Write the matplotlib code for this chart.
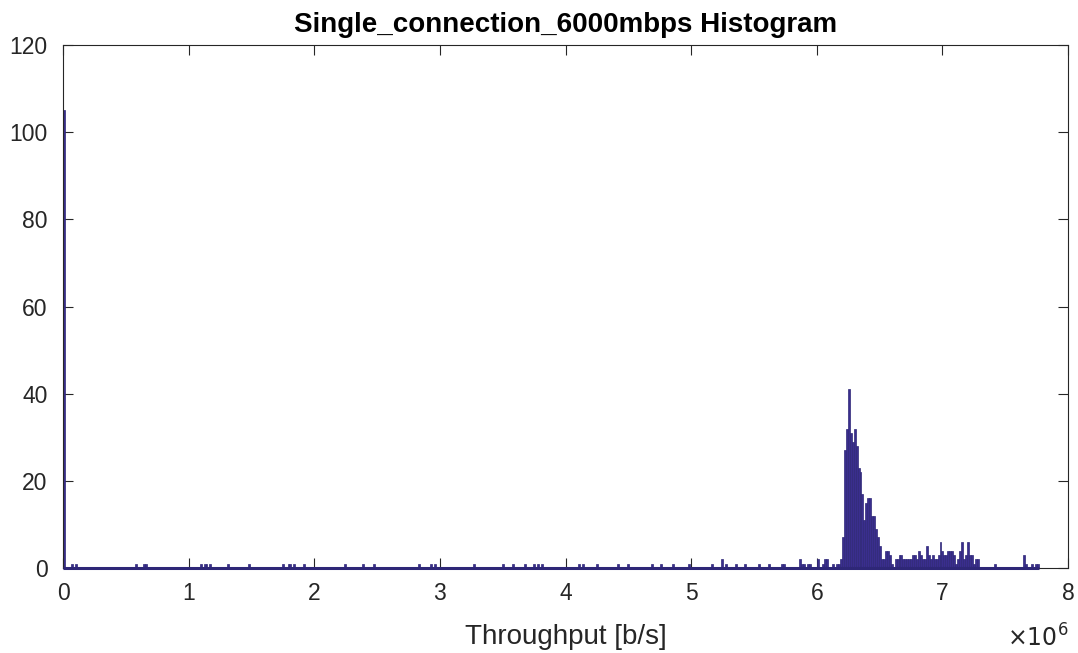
import numpy as np
import matplotlib
matplotlib.use("Agg")
import matplotlib.pyplot as plt
from matplotlib.ticker import FuncFormatter

# Histogram of measured throughput: 500 equal bins between the min and max sample
n_bins = 500
data_min = 0.0
data_max = 7.77e6

# Non-empty bins (index into the 500 bins) and their counts
bin_index = [
    0, 4, 6, 37, 41, 42, 70, 72, 73, 75, 84, 95, 112, 115, 116, 118, 123,
    144, 153, 159, 182, 188, 190, 210, 225, 230, 236, 241, 243, 245, 264,
    266, 273, 284, 289, 301, 306, 312, 320, 332, 337, 339, 344, 349, 356,
    361, 368, 369, 377, 378, 379, 381, 382, 386, 389, 390, 391, 394, 396,
    397, 398, 399, 400, 401, 402, 403, 404, 405, 406, 407, 408, 409, 410,
    411, 412, 413, 414, 415, 416, 417, 418, 419, 420, 421, 422, 423, 424,
    426, 427, 428, 429, 430, 431, 432, 433, 434, 435, 436, 437, 438, 439,
    440, 441, 442, 443, 444, 445, 446, 447, 448, 449, 450, 451, 452, 453,
    454, 455, 456, 457, 458, 459, 460, 461, 462, 463, 464, 465, 466, 467,
    468, 477, 492, 493, 496, 498, 499,
]
bin_count = [
    105, 1, 1, 1, 1, 1, 1, 1, 1, 1, 1, 1, 1, 1, 1, 1, 1,
    1, 1, 1, 1, 1, 1, 1, 1, 1, 1, 1, 1, 1, 1,
    1, 1, 1, 1, 1, 1, 1, 1, 1, 2, 1, 1, 1, 1,
    1, 1, 1, 2, 1, 1, 1, 1, 2, 1, 2, 2, 1, 1,
    1, 2, 7, 27, 32, 41, 31, 29, 32, 28, 23, 22, 17, 11,
    15, 16, 16, 12, 12, 9, 7, 5, 2, 2, 4, 4, 3, 1,
    2, 2, 3, 3, 2, 2, 2, 2, 2, 3, 3, 2, 4, 3,
    2, 2, 5, 3, 2, 3, 2, 2, 3, 6, 4, 3, 3, 4,
    4, 4, 3, 1, 2, 4, 6, 2, 3, 6, 3, 3, 1, 2,
    2, 1, 3, 1, 1, 1, 1,
]

x_ticks = [0, 1, 2, 3, 4, 5, 6, 7, 8]          # in units of 1e6 b/s
y_ticks = [0, 20, 40, 60, 80, 100, 120]

bar_face = "#3a2e8e"
bar_edge = "#2e2777"
axis_col = (0.15, 0.15, 0.15)

plt.rcParams["font.family"] = ["Liberation Sans", "DejaVu Sans"]

fig = plt.figure(figsize=(10.78, 6.53), dpi=100)
ax = fig.add_axes([63 / 1078, 1 - 568 / 653, (1068 - 63) / 1078, (568 - 45) / 653])

counts = np.zeros(n_bins)
counts[bin_index] = bin_count
edges = np.linspace(data_min, data_max, n_bins + 1)
widths = np.diff(edges)
nz = counts > 0
ax.bar(edges[:-1][nz], counts[nz], width=widths[nz], align="edge",
       color=bar_face, edgecolor=bar_edge, linewidth=0.5, zorder=2)
# zero-height bins still leave their outline along the baseline
ax.hlines(0, edges[0], edges[-1], colors=bar_edge, linewidth=2.2,
          clip_on=False, zorder=3)

ax.set_xlim(0, 8e6)
ax.set_ylim(0, 120)
ax.set_xticks([t * 1e6 for t in x_ticks])
ax.set_yticks(y_ticks)
ax.xaxis.set_major_formatter(FuncFormatter(lambda v, p: f"{v / 1e6:g}"))

for s in ax.spines.values():
    s.set_color(axis_col)
    s.set_linewidth(0.8)
ax.tick_params(direction="in", length=7.5, width=0.8, colors=axis_col,
               labelsize=16.5, top=True, right=True)
ax.tick_params(axis="x", pad=10)
ax.tick_params(axis="y", pad=11)
for lab in ax.get_xticklabels() + ax.get_yticklabels():
    lab.set_color(axis_col)

ax.set_xlabel("Throughput [b/s]", fontsize=20, color=axis_col, labelpad=14)
ax.set_title("Single_connection_6000mbps Histogram", fontsize=20,
             fontweight="bold", color="black", pad=9)
ax.text(1.0, -0.108, r"$\times10^{6}$", transform=ax.transAxes,
        ha="right", va="top", fontsize=17, color=axis_col)

fig.savefig("out.png", dpi=100)
